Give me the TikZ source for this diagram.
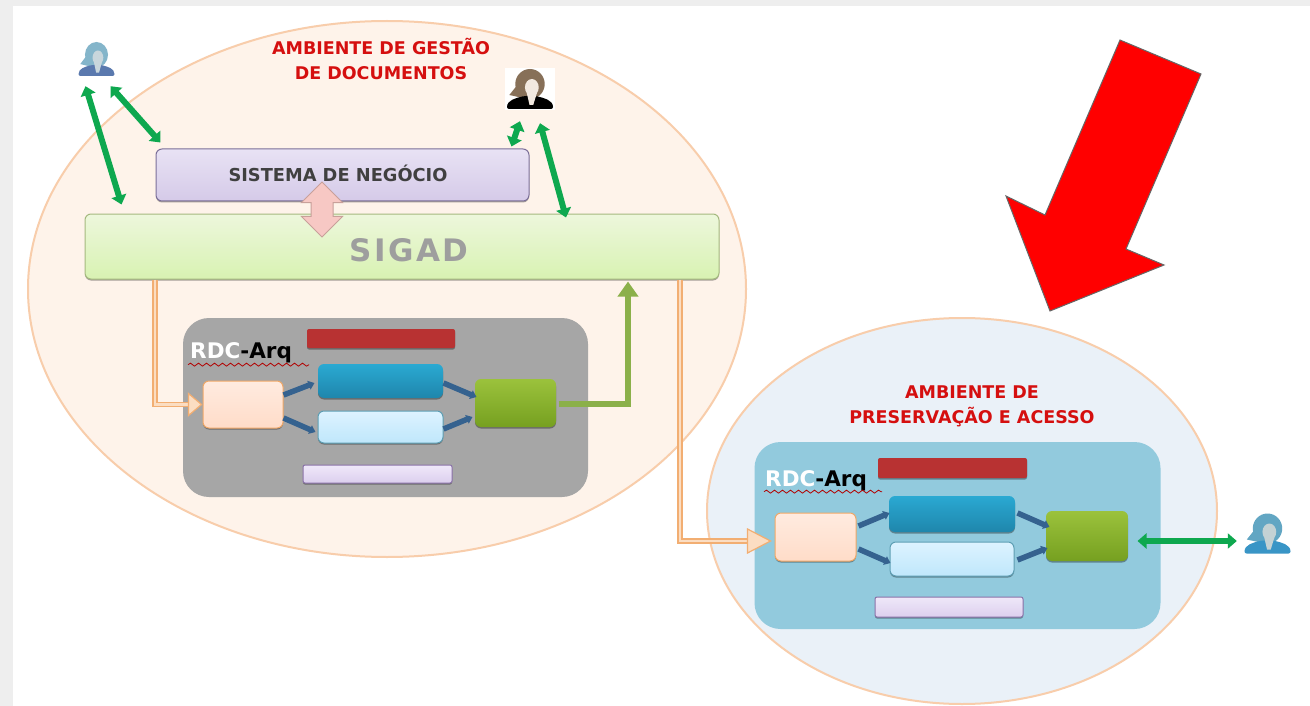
\documentclass[tikz,border=0pt]{standalone}
\usepackage{fontspec}
\setmainfont{DejaVu Sans}
\newfontfamily\sigadfont[LetterSpace=8]{DejaVu Sans Bold}
\usetikzlibrary{arrows.meta,calc,shapes.arrows,shadows,decorations.pathmorphing}

\definecolor{pageGray}{HTML}{EEEEEE}
\definecolor{peachFill}{HTML}{FEF3EA}
\definecolor{peachLine}{HTML}{F8CDAB}
\definecolor{paleBlue}{HTML}{EAF1F8}
\definecolor{titleRed}{HTML}{D50F0F}
\definecolor{linkGreen}{HTML}{0EA84F}
\definecolor{linkBlue}{HTML}{35628F}
\definecolor{linkOlive}{HTML}{8BB04A}
\definecolor{linkOrange}{HTML}{F2AE72}
\definecolor{innerOrange}{HTML}{FBDDC2}
\definecolor{sigadTop}{HTML}{EDF7DC}
\definecolor{sigadBottom}{HTML}{D8F2B2}
\definecolor{sigadLine}{HTML}{A5B97F}
\definecolor{negocioTop}{HTML}{E8E2F4}
\definecolor{negocioBottom}{HTML}{D5CAE8}
\definecolor{negocioLine}{HTML}{7B6F99}
\definecolor{barRed}{HTML}{B83232}
\definecolor{blueTop}{HTML}{2AA9D2}
\definecolor{blueBottom}{HTML}{1F86AC}
\definecolor{lightTop}{HTML}{DDF3FF}
\definecolor{lightBottom}{HTML}{BFE7FB}
\definecolor{lightLine}{HTML}{5E9FB4}
\definecolor{boxPeachTop}{HTML}{FFEBE0}
\definecolor{boxPeachBottom}{HTML}{FFDCC8}
\definecolor{boxPeachLine}{HTML}{F0A868}
\definecolor{greenTop}{HTML}{9BC23C}
\definecolor{greenBottom}{HTML}{76A020}
\definecolor{lilacTop}{HTML}{EFE8F9}
\definecolor{lilacBottom}{HTML}{DCCFEE}
\definecolor{lilacLine}{HTML}{8A72A8}
\definecolor{panelGrayFill}{HTML}{A6A6A6}
\definecolor{panelBlueFill}{HTML}{92CADD}
\definecolor{pinkFill}{HTML}{F7C8C4}
\definecolor{pinkLine}{HTML}{C8A09A}

\tikzset{
    softbox/.style={rounded corners=6pt, inner sep=0pt, line width=1pt, general shadow={fill=black, opacity=0.35, shadow yshift=-1.5pt}},
    sigadbox/.style={softbox, draw=sigadLine, top color=sigadTop, bottom color=sigadBottom},
    negociobox/.style={softbox, draw=negocioLine, top color=negocioTop, bottom color=negocioBottom},
    redbar/.style={softbox, rounded corners=2pt, fill=barRed},
    bluebox/.style={softbox, top color=blueTop, bottom color=blueBottom},
    lightbox/.style={softbox, draw=lightLine, top color=lightTop, bottom color=lightBottom},
    peachbox/.style={softbox, draw=boxPeachLine, top color=boxPeachTop, bottom color=boxPeachBottom},
    greenbox/.style={softbox, top color=greenTop, bottom color=greenBottom},
    lilacbox/.style={softbox, rounded corners=2pt, draw=lilacLine, top color=lilacTop, bottom color=lilacBottom},
    panelgray/.style={fill=panelGrayFill, rounded corners=26pt, inner sep=0pt},
    panelblue/.style={fill=panelBlueFill, rounded corners=26pt, inner sep=0pt},
    greenlink/.style={draw=linkGreen, line width=6pt, {Triangle[length=9pt,width=15pt]}-{Triangle[length=9pt,width=15pt]}},
    bluelink/.style={draw=linkBlue, line width=5.5pt, -{Triangle[length=6pt,width=9pt]}},
    olivelink/.style={draw=linkOlive, line width=6pt, -{Triangle[length=15pt,width=20pt]}},
    orangelink/.style={draw=linkOrange, double=innerOrange, line width=1.5pt, double distance=2.5pt},
    orangehead/.style={draw=linkOrange, fill=innerOrange, line width=1.2pt},
    titletext/.style={text=titleRed, font=\fontsize{17.5}{25}\selectfont\bfseries, align=center, inner sep=0pt},
    rdctext/.style={font=\fontsize{21.5}{23}\selectfont\bfseries, inner sep=0pt},
    squiggle/.style={draw=red!70!black, line width=0.8pt, decorate, decoration={snake, amplitude=1.5pt, segment length=8pt}},
    personbox/.style={inner sep=0pt}
}

\newcommand{\personicon}[6]{
    \begin{scope}[shift={(#1.center)}, x=#2pt, y=-#3pt]
        \fill[#5] (0,-0.25) ellipse (0.64 and 0.75);
        \fill[#5] (-0.55,-0.2) -- (-0.9,0.3) -- (-0.3,0.45) -- cycle;
        \fill[#4, rounded corners=2pt] (-1,1) .. controls (-1,0.55) and (-0.6,0.45) .. (-0.25,0.35) -- (0.25,0.35) .. controls (0.6,0.45) and (1,0.55) .. (1,1) -- cycle;
        \fill[#6] (0.08,-0.08) ellipse (0.3 and 0.42);
        \fill[#6] (-0.14,0.2) -- (0.3,0.2) -- (0.14,0.8) -- (-0.02,0.8) -- cycle;
    \end{scope}
}

\begin{document}
\begin{tikzpicture}[x=1pt, y=-1pt]
    \useasboundingbox (0,0) rectangle (1310,706);
    \fill[pageGray] (0,0) rectangle (1310,706);
    \fill[white] (13,6) rectangle (1310,706);

    \filldraw[fill=peachFill, draw=peachLine, line width=2pt] (387,289) ellipse (359 and 268);
    \filldraw[fill=paleBlue, draw=peachLine, line width=2pt] (962,511) ellipse (255 and 193);

    \filldraw[fill=red, draw=black!60, line width=1pt] (1050,311) -- (1006,196) -- (1045,215) -- (1120,40) -- (1201,74) -- (1126,249) -- (1164,265) -- cycle;

    \node[titletext] (titleGestao) at (381,59) {AMBIENTE DE GESTÃO\\DE DOCUMENTOS};
    \node[titletext] (titlePreserva) at (972,406) {AMBIENTE DE\\PRESERVAÇÃO E ACESSO};

    \node[sigadbox, minimum width=634pt, minimum height=65pt] (sigad) at (402,246.5) {};
    \node[text=black!38, font=\fontsize{31}{33}\selectfont\sigadfont, inner sep=0pt] (sigadText) at (409,250) {SIGAD};
    \node[negociobox, minimum width=373pt, minimum height=52pt] (negocio) at (342.5,175) {};
    \node[text=black!75, font=\fontsize{17.8}{19}\selectfont\bfseries, inner sep=0pt] (negocioText) at (338,173) {SISTEMA DE NEGÓCIO};
    \node[double arrow, rotate=90, draw=pinkLine, fill=pinkFill, line width=1pt, minimum height=55pt, double arrow head extend=9.5pt, inner sep=0pt] (troca) at (322,209.5) {\rule{0pt}{21pt}};

    \node[personbox, minimum width=37pt, minimum height=34pt] (userA) at (96.5,59) {};
    \node[personbox, fill=white, minimum width=50pt, minimum height=42pt] (userB) at (530,89) {};
    \node[personbox, minimum width=47pt, minimum height=41pt] (userC) at (1267.5,533.5) {};
    \personicon{userA}{18}{17}{cyan!45!blue!60!gray}{cyan!45!gray!80!white}{cyan!25!gray!40!white}
    \personicon{userB}{23}{20}{black}{brown!50!black!75!white}{orange!8!white!90!gray}
    \personicon{userC}{23}{20}{blue!35!cyan!55!gray}{blue!30!cyan!45!gray!85!white}{blue!12!cyan!15!gray!40!white}

    \draw[greenlink] ([xshift=-11pt,yshift=-10pt]userA.south) -- ([xshift=37pt,yshift=9pt]sigad.north west);
    \draw[greenlink] ([xshift=14pt,yshift=-10pt]userA.south) -- ([xshift=5pt,yshift=6pt]negocio.north west);
    \draw[greenlink] ([xshift=-10pt,yshift=-11pt]userB.south) -- ([xshift=-18pt,yshift=2pt]negocio.north east);
    \draw[greenlink] ([xshift=10pt,yshift=-13pt]userB.south) -- ([xshift=164pt,yshift=-4pt]sigad.north);

    \node[panelgray, minimum width=405pt, minimum height=179pt] (panelA) at (385.5,407.5) {};
    \node[redbar, minimum width=148pt, minimum height=19pt] (barA) at (381,338.5) {};
    \node[bluebox, minimum width=125pt, minimum height=34pt] (blueA) at (380.5,381) {};
    \node[lightbox, minimum width=125pt, minimum height=32pt] (lightA) at (380.5,427) {};
    \node[peachbox, minimum width=80pt, minimum height=47pt] (peachA) at (243,404.5) {};
    \node[greenbox, minimum width=81pt, minimum height=48pt] (greenA) at (515.5,403) {};
    \node[lilacbox, minimum width=149pt, minimum height=18pt] (lilacA) at (377.5,474) {};
    \node[rdctext, anchor=base west] (rdcA) at (190,358) {\textcolor{white}{RDC}-Arq};
    \draw[squiggle] ([xshift=-2pt,yshift=-2pt]rdcA.south west) -- ([xshift=17pt,yshift=-2pt]rdcA.south east);

    \draw[bluelink] ([yshift=9.5pt]peachA.east) -- ([xshift=-3pt,yshift=-2pt]blueA.west);
    \draw[bluelink] ([yshift=-13.5pt]peachA.east) -- ([xshift=-2pt,yshift=-5pt]lightA.west);
    \draw[bluelink] ([yshift=-2pt]blueA.east) -- ([xshift=2pt,yshift=6pt]greenA.west);
    \draw[bluelink] ([yshift=-2pt]lightA.east) -- ([xshift=-2pt,yshift=-14pt]greenA.west);

    \node[panelblue, minimum width=406pt, minimum height=187pt] (panelB) at (957.5,535.5) {};
    \node[redbar, minimum width=149pt, minimum height=20pt] (barB) at (952.5,468) {};
    \node[bluebox, minimum width=126pt, minimum height=36pt] (blueB) at (952,514) {};
    \node[lightbox, minimum width=124pt, minimum height=34pt] (lightB) at (952,559) {};
    \node[peachbox, minimum width=81pt, minimum height=48pt] (peachB) at (815.5,537) {};
    \node[greenbox, minimum width=82pt, minimum height=50pt] (greenB) at (1087,536) {};
    \node[lilacbox, minimum width=148pt, minimum height=20pt] (lilacB) at (949,607) {};
    \node[rdctext, anchor=base west] (rdcB) at (765,486) {\textcolor{white}{RDC}-Arq};
    \draw[squiggle] ([xshift=-1pt,yshift=-1pt]rdcB.south west) -- ([xshift=15pt,yshift=-1pt]rdcB.south east);

    \draw[bluelink] ([xshift=2pt,yshift=11pt]peachB.east) -- ([xshift=1pt,yshift=1pt]blueB.west);
    \draw[bluelink] ([xshift=2pt,yshift=-12pt]peachB.east) -- ([xshift=1pt,yshift=-4pt]lightB.west);
    \draw[bluelink] ([xshift=2pt,yshift=1pt]blueB.east) -- ([xshift=4pt,yshift=9pt]greenB.west);
    \draw[bluelink] ([xshift=3pt,yshift=-1pt]lightB.east) -- ([xshift=2pt,yshift=-12pt]greenB.west);

    \draw[olivelink] ([xshift=2pt,yshift=-1pt]greenA.east) -| ([xshift=226pt,yshift=-2pt]sigad.south);
    \draw[greenlink] ([xshift=9pt,yshift=-5pt]greenB.east) -- ([xshift=-7pt,yshift=-7.5pt]userC.west);

    \draw[orangelink] ([xshift=-247pt]sigad.south) |- ([xshift=-12pt]peachA.west);
    \filldraw[orangehead] ([xshift=-1pt]peachA.west) -- ++(-13,-11) -- ++(0,22) -- cycle;
    \draw[orangelink] ([xshift=278pt]sigad.south) |- ([xshift=-26pt,yshift=-4pt]peachB.west);
    \filldraw[orangehead] ([xshift=-4pt,yshift=-4pt]peachB.west) -- ++(-23,-12) -- ++(0,24) -- cycle;
\end{tikzpicture}
\end{document}
